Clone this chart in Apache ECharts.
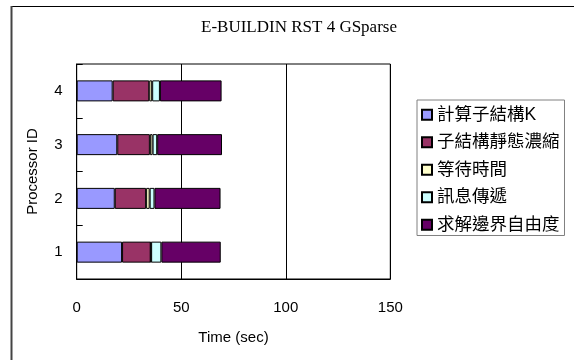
<!DOCTYPE html>
<html>
<head>
<meta charset="utf-8">
<script src="https://cdn.jsdelivr.net/npm/echarts@6/dist/echarts.min.js"></script>
<style>
  html, body { margin: 0; padding: 0; background: #fff; }
  #chart { width: 574px; height: 360px; }
</style>
</head>
<body>
<div id="chart"></div>
<script>
// Processor IDs (bottom to top) and time spent per phase, in seconds
const processorIds = ['1', '2', '3', '4'];
const computeK = [21.7, 18.2, 19.4, 17.2];
const staticCondense = [13.7, 15.0, 15.6, 17.5];
const waitTime = [0.2, 1.7, 1.3, 1.4];
const messaging = [4.9, 2.3, 2.2, 3.7];
const solveBoundary = [28.4, 31.6, 31.0, 29.5];

const seriesNames = ['計算子結構K', '子結構靜態濃縮', '等待時間', '訊息傳遞', '求解邊界自由度'];
const seriesColors = ['#9999FF', '#993366', '#FFFFCC', '#CCFFFF', '#660066'];
const seriesData = [computeK, staticCondense, waitTime, messaging, solveBoundary];

const latin = 'Liberation Sans, Arial, sans-serif';
const mixed = '"Liberation Sans", "Noto Sans CJK TC", sans-serif';

const chart = echarts.init(document.getElementById('chart'), null, { renderer: 'canvas' });

chart.setOption({
  animation: false,
  backgroundColor: '#ffffff',
  title: {
    text: 'E-BUILDIN RST 4 GSparse',
    left: 294,
    top: 14,
    textAlign: 'center',
    textStyle: { fontFamily: 'Liberation Serif, Times New Roman, serif', fontSize: 17, fontWeight: 'normal', color: '#000' }
  },
  graphic: [
    { type: 'line', shape: { x1: 11, y1: 6.5, x2: 574, y2: 6.5 }, style: { stroke: '#000', lineWidth: 1.2 } },
    { type: 'line', shape: { x1: 11.5, y1: 6, x2: 11.5, y2: 360 }, style: { stroke: '#444', lineWidth: 2 } }
  ],
  legend: {
    orient: 'vertical',
    left: 417,
    top: 100,
    padding: [6, 5, 2, 4],
    itemWidth: 10,
    itemHeight: 10,
    itemGap: 10,
    borderColor: '#808080',
    borderWidth: 1,
    icon: 'rect',
    textStyle: { fontFamily: mixed, fontSize: 17.5, lineHeight: 17, color: '#000' },
    data: seriesNames
  },
  grid: {
    left: 76.7,
    right: 183.7,
    top: 64,
    height: 215,
    show: true,
    borderColor: '#000',
    borderWidth: 1,
    containLabel: false
  },
  xAxis: {
    type: 'value',
    min: 0,
    max: 150,
    interval: 50,
    name: 'Time (sec)',
    nameLocation: 'middle',
    nameGap: 51,
    nameTextStyle: { fontFamily: latin, fontSize: 15, color: '#000' },
    axisLine: { show: true, lineStyle: { color: '#000' } },
    axisTick: { show: false },
    axisLabel: { margin: 21, fontFamily: latin, fontSize: 15, color: '#000' },
    splitLine: { show: true, lineStyle: { color: '#000', width: 1 } }
  },
  yAxis: {
    type: 'category',
    data: processorIds,
    name: 'Processor ID',
    nameLocation: 'middle',
    nameRotate: 90,
    nameGap: 36,
    nameTextStyle: { fontFamily: latin, fontSize: 15, color: '#000' },
    axisLine: { show: true, lineStyle: { color: '#000' } },
    axisTick: { show: true, inside: true, length: 6, lineStyle: { color: '#000' } },
    axisLabel: { margin: 14, fontFamily: latin, fontSize: 15, color: '#000' },
    splitLine: { show: false }
  },
  series: seriesNames.map((name, i) => ({
    name: name,
    type: 'bar',
    stack: 'time',
    barWidth: 21,
    data: seriesData[i],
    itemStyle: { color: seriesColors[i], borderColor: '#000', borderWidth: 1 }
  }))
});
</script>
</body>
</html>
